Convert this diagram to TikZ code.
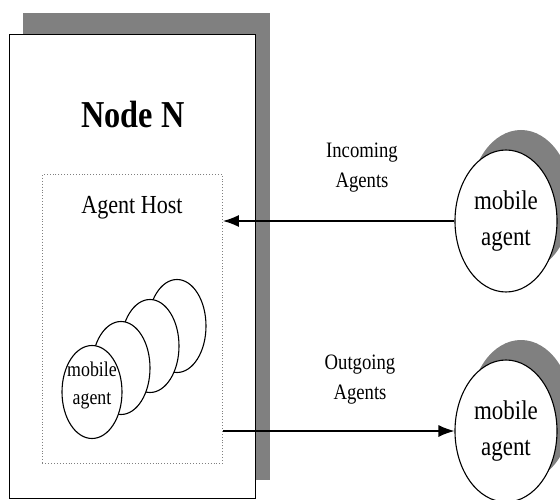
\documentclass[tikz,border=0pt]{standalone}
\usepackage{fontspec}
\setmainfont{Liberation Serif}[FakeStretch=0.85]
\usetikzlibrary{arrows.meta,shapes.geometric}
\definecolor{shadowgray}{RGB}{128,128,128}
\begin{document}
\begin{tikzpicture}[x=1pt,y=-1pt,
  shadowbox/.style={fill=shadowgray,draw=none},
  agent/.style={ellipse,draw=black,line width=1.1pt,fill=white,inner sep=0pt,align=center},
  bigagent/.style={agent,minimum width=102pt,minimum height=142pt,
    font=\fontsize{27}{36}\selectfont},
  stackagent/.style={agent,minimum width=58pt,minimum height=93pt,
    font=\fontsize{21}{28}\selectfont},
  flowlabel/.style={align=center,font=\fontsize{22}{30}\selectfont},
  flow/.style={line width=1.4pt,-{Latex[length=16pt,width=12pt]}}]

\useasboundingbox (0,0) rectangle (560,500);

% node N with its drop shadow
\fill[shadowbox] (23,13) rectangle (270,480);
\node[draw=black,line width=1.3pt,fill=white,minimum width=246pt,minimum height=464pt,
  inner sep=0pt,anchor=north west] (nodeN) at (9,34) {};
\node[font=\fontsize{38}{40}\selectfont\bfseries] (title) at (133,115) {Node N};

% agent host area
\node[draw=gray,dotted,line width=0.9pt,minimum width=180pt,minimum height=289pt,
  inner sep=0pt,anchor=north west] (host) at (42,174) {};
\node[font=\fontsize{26}{30}\selectfont] (hostlabel) at (132,208) {Agent Host};

% stack of hosted agents, back to front
\node[stackagent] (s4) at (177,326) {};
\node[stackagent] (s3) at (150,346) {};
\node[stackagent] (s2) at (121,368) {};
\node[stackagent,minimum width=60pt,inner xsep=-8pt,text height=29pt] (s1) at (92,392)
  {mobile\\agent};

% remote agents with shadows
\fill[shadowbox] (521,201) ellipse [x radius=51,y radius=71];
\fill[shadowbox] (521,411) ellipse [x radius=51,y radius=71];
\node[bigagent] (ma1) at (506,221) {mobile\\agent};
\node[bigagent] (ma2) at (506,431) {mobile\\agent};

% migration arrows
\draw[flow] (ma1.west) -- (ma1.west -| host.east);
\draw[flow] (host.east |- ma2.west) -- (ma2.west);
\node[flowlabel] (inlabel) at (362,168) {Incoming\\Agents};
\node[flowlabel] (outlabel) at (360,380) {Outgoing\\Agents};
\end{tikzpicture}
\end{document}
